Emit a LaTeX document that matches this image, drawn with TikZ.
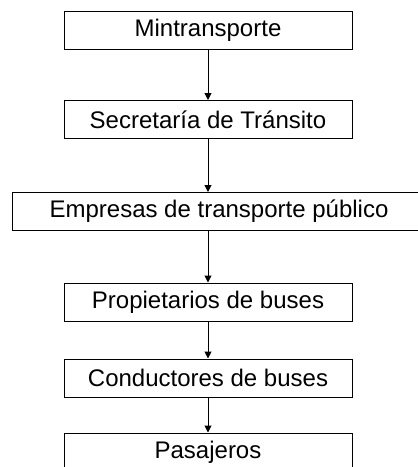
\documentclass[tikz,border=0pt]{standalone}
\usepackage{fontspec}
\setmainfont{Liberation Sans}
\usetikzlibrary{arrows.meta}
\newlength{\du}
\setlength{\du}{1pt}
\tikzset{
  caja/.style={draw=dialinecolor, fill=white, line width=1\du, inner sep=0pt,
    minimum width=288\du, minimum height=38\du,
    font=\fontsize{24}{28}\selectfont},
  flecha/.style={draw=dialinecolor, line width=1\du, -{Triangle[length=7pt,width=7pt]}}
}
\begin{document}
\begin{tikzpicture}
\pgftransformxscale{1.000000}
\pgftransformyscale{-1.000000}
\definecolor{dialinecolor}{rgb}{0.000000, 0.000000, 0.000000}
\useasboundingbox (0\du,0\du) rectangle (418\du,467\du);
% setfont left to latex
\node[caja] (mintransporte) at (208\du,30\du){Mintransporte};
\node[caja] (secretaria) at (208\du,119.5\du){Secretaría de Tránsito};
\node[caja, minimum width=414\du] (empresas) at (219\du,211.5\du){Empresas de transporte público};
\node[caja] (propietarios) at (208\du,302\du){Propietarios de buses};
\node[caja] (conductores) at (208\du,378\du){Conductores de buses};
\node[caja] (pasajeros) at (208\du,452\du){Pasajeros};
% was here!!!
\draw[flecha] (mintransporte.south) -- (secretaria.north);
\draw[flecha] (secretaria.south) -- (secretaria.south |- empresas.north);
\draw[flecha] (secretaria.south |- empresas.south) -- (propietarios.north);
\draw[flecha] (propietarios.south) -- (conductores.north);
\draw[flecha] (conductores.south) -- (pasajeros.north);
\end{tikzpicture}
\end{document}
